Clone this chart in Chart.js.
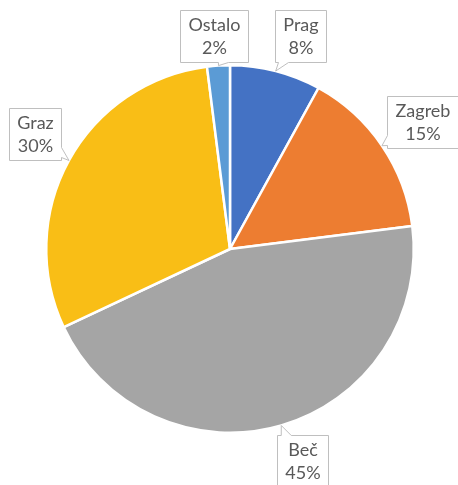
<!DOCTYPE html>
<html>
<head>
<meta charset="utf-8">
<script src="https://cdn.jsdelivr.net/npm/chart.js@4.4.1/dist/chart.umd.min.js"></script>
<style>
  html, body { margin: 0; padding: 0; background: #fff; }
  #wrap { width: 458px; height: 485px; }
</style>
</head>
<body>
<div id="wrap"><canvas id="pie" width="458" height="485"></canvas></div>
<script>
const cities = ["Prag", "Zagreb", "Beč", "Graz", "Ostalo"];
const shares = [8, 15, 45, 30, 2];
const sliceColors = ["#4472C4", "#ED7D31", "#A5A5A5", "#F9BE16", "#5B9BD5"];

// small per-label shifts so the callouts sit like the original ones
const labelNudge = [[14, 6], [6, 0], [10, -5], [3, -6], [-2, 12]];

function calloutPath(ctx, x0, y0, x1, y1, tx, ty) {
  const exL = x0 - tx, exR = tx - x1, exT = y0 - ty, exB = ty - y1;
  const side = Math.max(exL, exR) > 0;
  const w = 10;
  ctx.beginPath();
  ctx.moveTo(x0, y0);
  if (!side && exT > 0) {
    let bx = Math.min(Math.max(tx, x0 + 3), x1 - 3 - w);
    ctx.lineTo(bx, y0); ctx.lineTo(tx, ty); ctx.lineTo(bx + w, y0);
  }
  ctx.lineTo(x1, y0);
  if (side && exR > 0) {
    let by = Math.min(Math.max(ty, y0 + 3 + w), y1 - 3);
    ctx.lineTo(x1, by - w); ctx.lineTo(tx, ty); ctx.lineTo(x1, by);
  }
  ctx.lineTo(x1, y1);
  if (!side && exB > 0) {
    let bx = Math.min(Math.max(tx, x0 + 3), x1 - 3 - w);
    ctx.lineTo(bx + w, y1); ctx.lineTo(tx, ty); ctx.lineTo(bx, y1);
  }
  ctx.lineTo(x0, y1);
  if (side && exL > 0) {
    let by = Math.min(Math.max(ty, y0 + 3 + w), y1 - 3);
    ctx.lineTo(x0, by); ctx.lineTo(tx, ty); ctx.lineTo(x0, by - w);
  }
  ctx.closePath();
}

const calloutLabels = {
  id: "calloutLabels",
  afterDatasetsDraw(chart) {
    const ctx = chart.ctx;
    const meta = chart.getDatasetMeta(0);
    const total = shares.reduce((a, b) => a + b, 0);
    ctx.save();
    ctx.font = "18px Lato";
    ctx.textAlign = "center";
    ctx.textBaseline = "middle";
    meta.data.forEach((arc, i) => {
      const p = arc.getProps(["x", "y", "startAngle", "endAngle", "outerRadius"], true);
      const mid = (p.startAngle + p.endAngle) / 2;
      const cx = Math.cos(mid), cy = Math.sin(mid);
      const tipX = p.x + p.outerRadius * cx;
      const tipY = p.y + p.outerRadius * cy;
      const bx = p.x + (p.outerRadius + 42) * cx + labelNudge[i][0];
      const by = p.y + (p.outerRadius + 42) * cy + labelNudge[i][1];
      const pct = Math.round(shares[i] / total * 100) + "%";
      const lines = [cities[i], pct];
      const tw = Math.max(...lines.map(t => ctx.measureText(t).width));
      const bw = Math.round(tw + 16), bh = 52;
      const x0 = Math.round(bx - bw / 2) + 0.5, y0 = Math.round(by - bh / 2) + 0.5;
      calloutPath(ctx, x0, y0, x0 + bw, y0 + bh, tipX, tipY);
      ctx.fillStyle = "#ffffff";
      ctx.fill();
      ctx.strokeStyle = "#bfbfbf";
      ctx.lineWidth = 1;
      ctx.stroke();
      ctx.fillStyle = "#595959";
      ctx.fillText(lines[0], x0 + bw / 2, y0 + 15);
      ctx.fillText(lines[1], x0 + bw / 2, y0 + 38);
    });
    ctx.restore();
  }
};

new Chart(document.getElementById("pie"), {
  type: "pie",
  data: {
    labels: cities,
    datasets: [{
      data: shares,
      backgroundColor: sliceColors,
      borderColor: "#ffffff",
      borderWidth: 2.5
    }]
  },
  options: {
    responsive: false,
    animation: false,
    layout: { padding: { left: 45, right: 43, top: 64, bottom: 51 } },
    plugins: {
      legend: { display: false },
      tooltip: { enabled: false }
    }
  },
  plugins: [calloutLabels]
});
</script>
</body>
</html>
